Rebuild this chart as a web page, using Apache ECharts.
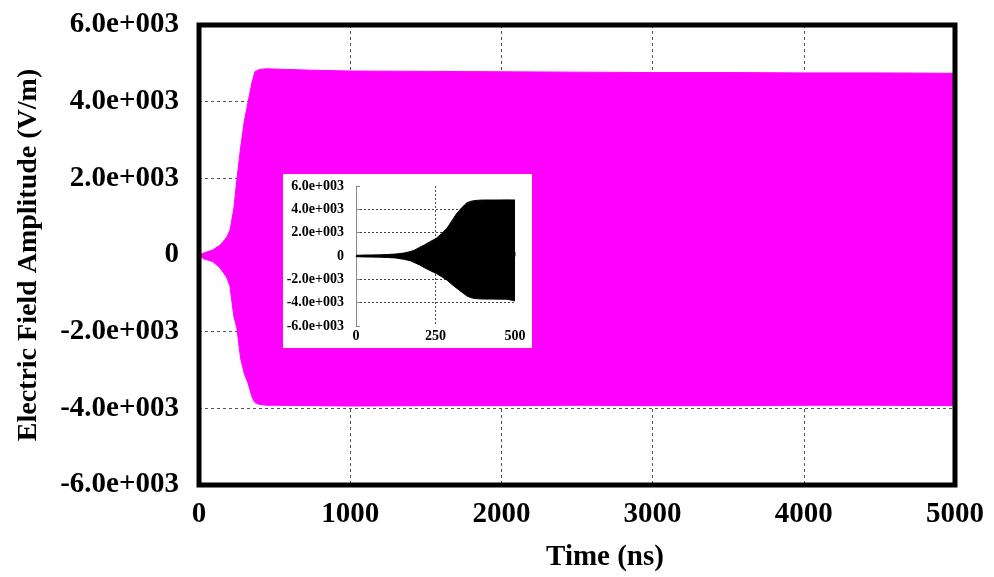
<!DOCTYPE html>
<html>
<head>
<meta charset="utf-8">
<script src="https://cdn.jsdelivr.net/npm/echarts@6/dist/echarts.min.js"></script>
<style>html,body{margin:0;padding:0;background:#fff}#c{width:994px;height:577px}</style>
</head>
<body>
<div id="c"></div>
<script>
// Main chart envelope (Time in ns, field in V/m)
const time  = [0, 30, 90, 140, 185, 205, 230, 250, 275, 300, 325, 350, 370, 400, 450, 500, 750, 1000, 1500, 2000, 2500, 3000, 3500, 4000, 4500, 5000];
const upper = [0, 50, 130, 260, 470, 650, 1200, 1950, 2800, 3500, 4000, 4500, 4780, 4840, 4860, 4850, 4820, 4800, 4790, 4780, 4770, 4760, 4760, 4750, 4750, 4740];
const lower = [0, -100, -170, -340, -600, -820, -1600, -1900, -2700, -3100, -3350, -3700, -3850, -3900, -3920, -3920, -3930, -3940, -3930, -3930, -3920, -3930, -3930, -3920, -3920, -3930];

// Inset (first 500 ns)
const insetTime  = [0, 25, 50, 75, 100, 125, 150, 170, 185, 200, 215, 233, 252, 270, 286, 300, 317, 333, 349, 360, 370, 385, 400, 425, 450, 475, 500];
const insetUpper = [60, 80, 90, 100, 130, 170, 250, 370, 520, 740, 950, 1230, 1510, 1950, 2370, 2950, 3660, 4150, 4570, 4680, 4740, 4780, 4800, 4800, 4800, 4810, 4800];
const insetLower = [-60, -80, -90, -100, -130, -170, -280, -400, -580, -770, -1000, -1250, -1490, -1780, -2060, -2400, -2770, -3100, -3430, -3560, -3630, -3670, -3690, -3690, -3700, -3700, -3850];

const xTicksMain = [0, 1000, 2000, 3000, 4000, 5000];
const xTicksInset = [0, 250, 500];

function sci(v) {
  if (v === 0) return '0';
  const s = v < 0 ? '-' : '';
  const a = Math.abs(v);
  const e = Math.floor(Math.log10(a));
  const m = (a / Math.pow(10, e)).toFixed(1);
  const es = (e < 0 ? '-' : '+') + String(Math.abs(e)).padStart(3, '0');
  return s + m + 'e' + es;
}
const plain = v => String(v);
const pairs = (xs, ys) => xs.map((x, i) => [x, ys[i]]);
const serif = '"Liberation Serif", "Times New Roman", serif';

const chart = echarts.init(document.getElementById('c'), null, { renderer: 'canvas' });
chart.setOption({
  animation: false,
  backgroundColor: '#fff',
  grid: [
    { left: 199, top: 25, right: 39, bottom: 89, show: true, z: 3,
      borderColor: '#000', borderWidth: 5, backgroundColor: 'transparent' },
    { left: 356, top: 186, width: 159, height: 140, show: false, z: 5 }
  ],
  graphic: [
    { type: 'rect', z: 4, shape: { x: 283, y: 174, width: 249, height: 174 },
      style: { fill: '#fff', stroke: null } }
  ],
  xAxis: [
    { type: 'value', gridIndex: 0, min: 0, max: 5000, interval: 1000,
      axisLine: { show: false }, axisTick: { show: false },
      splitLine: { show: true, lineStyle: { color: '#555', type: [3, 3], width: 1 } },
      axisLabel: { fontFamily: serif, fontWeight: 'bold', fontSize: 29, color: '#000', margin: 15, formatter: plain },
      name: 'Time (ns)', nameLocation: 'middle', nameGap: 58,
      nameTextStyle: { fontFamily: serif, fontWeight: 'bold', fontSize: 29, color: '#000', padding: [0, 0, 0, 56] } },
    { type: 'value', gridIndex: 1, min: 0, max: 500, interval: 250, z: 6,
      axisLine: { show: true, lineStyle: { color: '#888', width: 1 } },
      axisTick: { show: true, inside: true, length: 4, lineStyle: { color: '#888' } },
      splitLine: { show: true, lineStyle: { color: ['transparent', '#444', 'transparent'], type: [2, 2], width: 1 } },
      axisLabel: { fontFamily: serif, fontWeight: 'bold', fontSize: 14, color: '#000', margin: 3, formatter: plain } }
  ],
  yAxis: [
    { type: 'value', gridIndex: 0, min: -6000, max: 6000, interval: 2000,
      axisLine: { show: false }, axisTick: { show: false },
      splitLine: { show: true, lineStyle: { color: '#555', type: [3, 3], width: 1 } },
      axisLabel: { fontFamily: serif, fontWeight: 'bold', fontSize: 29, color: '#000', margin: 20, formatter: sci },
      name: 'Electric Field Amplitude (V/m)', nameLocation: 'middle', nameGap: 156,
      nameTextStyle: { fontFamily: serif, fontWeight: 'bold', fontSize: 28, color: '#000' } },
    { type: 'value', gridIndex: 1, min: -6000, max: 6000, interval: 2000, z: 6,
      axisLine: { show: true, lineStyle: { color: '#888', width: 1 } },
      axisTick: { show: true, inside: true, length: 4, lineStyle: { color: '#888' } },
      splitLine: { show: true, lineStyle: { color: ['transparent', '#444', '#444', '#444', '#444', '#444', 'transparent'], type: [2, 2], width: 1 } },
      axisLabel: { fontFamily: serif, fontWeight: 'bold', fontSize: 14, color: '#000', margin: 12, formatter: sci } }
  ],
  series: [
    { type: 'line', xAxisIndex: 0, yAxisIndex: 0, z: 2, data: pairs(time, upper), symbol: 'none',
      lineStyle: { color: '#ff00ff', width: 1 }, areaStyle: { color: '#ff00ff', opacity: 1, origin: 0 } },
    { type: 'line', xAxisIndex: 0, yAxisIndex: 0, z: 2, data: pairs(time, lower), symbol: 'none',
      lineStyle: { color: '#ff00ff', width: 1 }, areaStyle: { color: '#ff00ff', opacity: 1, origin: 0 } },
    { type: 'line', xAxisIndex: 1, yAxisIndex: 1, z: 7, data: pairs(insetTime, insetUpper), symbol: 'none',
      lineStyle: { color: '#000', width: 1 }, areaStyle: { color: '#000', opacity: 1, origin: 0 } },
    { type: 'line', xAxisIndex: 1, yAxisIndex: 1, z: 7, data: pairs(insetTime, insetLower), symbol: 'none',
      lineStyle: { color: '#000', width: 1 }, areaStyle: { color: '#000', opacity: 1, origin: 0 } }
  ]
});
</script>
</body>
</html>
